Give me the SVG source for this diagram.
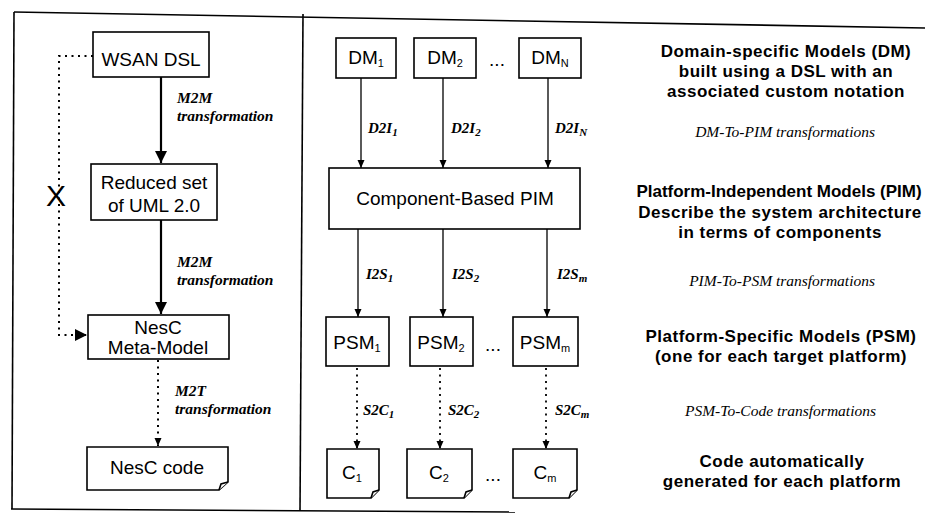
<svg xmlns="http://www.w3.org/2000/svg" width="928" height="517" viewBox="0 0 928 517">
<defs>
<style>
.bg{fill:#fff}
.frame{fill:none;stroke:#000;stroke-width:1.6}
.box{fill:#fff;stroke:#000;stroke-width:1.6}
.bt{font-family:"Liberation Sans",Arial,sans-serif;font-size:19px;fill:#000;text-anchor:middle}
.sub{font-size:11px}
.lbl{font-family:"Liberation Serif","Times New Roman",serif;font-size:15.5px;font-style:italic;font-weight:bold;fill:#000}
.rl{font-family:"Liberation Serif","Times New Roman",serif;font-size:15px;font-style:italic;font-weight:bold;fill:#000}
.desc{font-family:"Liberation Sans",Arial,sans-serif;font-size:17px;font-weight:bold;fill:#000;text-anchor:middle;letter-spacing:0.5px}
.it{font-family:"Liberation Serif","Times New Roman",serif;font-size:15.5px;font-style:italic;fill:#000;text-anchor:end}
.solid{fill:none;stroke:#000;stroke-width:2.2}
.thin{fill:none;stroke:#000;stroke-width:1.3}
.dot{fill:none;stroke:#000;stroke-width:2;stroke-dasharray:2 4.5}
.dott{fill:none;stroke:#000;stroke-width:1.8;stroke-dasharray:2 4.5}
</style>
<marker id="ah" markerUnits="userSpaceOnUse" markerWidth="12" markerHeight="14" viewBox="0 0 12 14" refX="12" refY="7" orient="auto">
<path d="M0,1 L12,7 L0,13 Z" fill="#000"/>
</marker>
<marker id="ahs" markerUnits="userSpaceOnUse" markerWidth="8" markerHeight="8" viewBox="0 0 8 8" refX="8" refY="4" orient="auto">
<path d="M0,0.5 L8,4 L0,7.5 Z" fill="#000"/>
</marker>
</defs>
<rect class="bg" x="0" y="0" width="928" height="517"/>

<g id="frame">
<path class="frame" d="M14,12 L925,28"/>
<path class="frame" d="M14,12 L12,509"/>
<path class="frame" d="M11,509 L515,512"/>
<path class="frame" d="M303,14 L300,511"/>
</g>

<g id="connectors">
<path id="c-wsan-uml" class="solid" d="M161,77 L161,163" marker-end="url(#ah)"/>
<path id="c-uml-nesc" class="solid" d="M161,220 L161,314" marker-end="url(#ah)"/>
<path id="c-wsan-nesc" class="dot" d="M93,56 L59,56 L59,335 L87,335" marker-end="url(#ah)"/>
<path id="c-nesc-code" class="dot" d="M158,360 L158,446" marker-end="url(#ahs)"/>
<path id="c-dm1-pim" class="thin" d="M361,78 L361,168" marker-end="url(#ahs)"/>
<path id="c-dm2-pim" class="thin" d="M443,78 L443,168" marker-end="url(#ahs)"/>
<path id="c-dmn-pim" class="thin" d="M548,78 L548,168" marker-end="url(#ahs)"/>
<path id="c-pim-psm1" class="thin" d="M358,229 L358,317" marker-end="url(#ahs)"/>
<path id="c-pim-psm2" class="thin" d="M443,229 L443,317" marker-end="url(#ahs)"/>
<path id="c-pim-psmm" class="thin" d="M547,229 L547,317" marker-end="url(#ahs)"/>
<path id="c-psm1-c1" class="dott" d="M357,368 L357,449" marker-end="url(#ahs)"/>
<path id="c-psm2-c2" class="dott" d="M440,368 L440,449" marker-end="url(#ahs)"/>
<path id="c-psmm-cm" class="dott" d="M546,368 L546,449" marker-end="url(#ahs)"/>
<text class="lbl" x="177" y="103">M2M</text>
<text class="lbl" x="177" y="121">transformation</text>
<text class="lbl" x="177" y="267">M2M</text>
<text class="lbl" x="177" y="285">transformation</text>
<text class="lbl" x="175" y="396">M2T</text>
<text class="lbl" x="175" y="414">transformation</text>
<text x="56" y="206" font-family="Liberation Sans,Arial,sans-serif" font-size="30" text-anchor="middle">X</text>
<text class="rl" x="368" y="133">D2I<tspan class="sub" dy="3">1</tspan></text>
<text class="rl" x="451" y="133">D2I<tspan class="sub" dy="3">2</tspan></text>
<text class="rl" x="555" y="133">D2I<tspan class="sub" dy="3">N</tspan></text>
<text class="rl" x="366" y="279">I2S<tspan class="sub" dy="3">1</tspan></text>
<text class="rl" x="452" y="279">I2S<tspan class="sub" dy="3">2</tspan></text>
<text class="rl" x="557" y="279">I2S<tspan class="sub" dy="3">m</tspan></text>
<text class="rl" x="363" y="415">S2C<tspan class="sub" dy="3">1</tspan></text>
<text class="rl" x="448" y="415">S2C<tspan class="sub" dy="3">2</tspan></text>
<text class="rl" x="555" y="415">S2C<tspan class="sub" dy="3">m</tspan></text>
</g>

<g id="n-wsan">
<rect class="box" x="93" y="32" width="116" height="45"/>
<text class="bt" x="151" y="62" dy="4">WSAN DSL</text>
</g>
<g id="n-uml">
<rect class="box" x="91" y="164" width="126" height="56"/>
<text class="bt" x="154" y="189">Reduced set</text>
<text class="bt" x="154" y="212">of UML 2.0</text>
</g>
<g id="n-nesc-mm">
<rect class="box" x="88" y="315" width="141" height="44"/>
<text class="bt" x="158" y="334">NesC</text>
<text class="bt" x="158" y="354">Meta-Model</text>
</g>
<g id="n-nesc-code">
<path class="box" d="M87,447 H228 V482 L219,490 H87 Z"/>
<path class="box" d="M228,482 L221,484 L219,490"/>
<text class="bt" x="157" y="474">NesC code</text>
</g>

<g id="n-dm1">
<rect class="box" x="336" y="38" width="60" height="40"/>
<text class="bt" x="366" y="64">DM<tspan class="sub" dy="3">1</tspan></text>
</g>
<g id="n-dm2">
<rect class="box" x="414" y="38" width="62" height="40"/>
<text class="bt" x="445" y="64">DM<tspan class="sub" dy="3">2</tspan></text>
</g>
<text class="bt" x="497" y="66">...</text>
<g id="n-dmn">
<rect class="box" x="519" y="38" width="62" height="40"/>
<text class="bt" x="550" y="64">DM<tspan class="sub" dy="3">N</tspan></text>
</g>
<g id="n-pim">
<rect class="box" x="329" y="168" width="251" height="61"/>
<text class="bt" x="455" y="205">Component-Based PIM</text>
</g>
<g id="n-psm1">
<rect class="box" x="326" y="317" width="63" height="49"/>
<text class="bt" x="357" y="349">PSM<tspan class="sub" dy="3">1</tspan></text>
</g>
<g id="n-psm2">
<rect class="box" x="410" y="317" width="63" height="49"/>
<text class="bt" x="441" y="349">PSM<tspan class="sub" dy="3">2</tspan></text>
</g>
<text class="bt" x="493" y="351">...</text>
<g id="n-psmm">
<rect class="box" x="513" y="317" width="65" height="49"/>
<text class="bt" x="545" y="349">PSM<tspan class="sub" dy="3">m</tspan></text>
</g>
<g id="n-c1">
<path class="box" d="M327,449 H379 V490 L371,498 H327 Z"/>
<path class="box" d="M379,490 L373,492 L371,498"/>
<text class="bt" x="352" y="479">C<tspan class="sub" dy="3">1</tspan></text>
</g>
<g id="n-c2">
<path class="box" d="M407,449 H472 V490 L464,498 H407 Z"/>
<path class="box" d="M472,490 L466,492 L464,498"/>
<text class="bt" x="439" y="479">C<tspan class="sub" dy="3">2</tspan></text>
</g>
<text class="bt" x="493" y="481">...</text>
<g id="n-cm">
<path class="box" d="M513,449 H577 V490 L569,498 H513 Z"/>
<path class="box" d="M577,490 L571,492 L569,498"/>
<text class="bt" x="545" y="479">C<tspan class="sub" dy="3">m</tspan></text>
</g>

<g id="descriptions">
<text class="desc" x="786" y="57">Domain-specific Models (DM)</text>
<text class="desc" x="786" y="77">built using a DSL with an</text>
<text class="desc" x="786" y="97">associated custom notation</text>
<text class="it" x="875" y="137">DM-To-PIM transformations</text>
<text class="desc" x="779" y="197" style="letter-spacing:0">Platform-Independent Models (PIM)</text>
<text class="desc" x="780" y="218">Describe the system architecture</text>
<text class="desc" x="780" y="238">in terms of components</text>
<text class="it" x="875" y="286">PIM-To-PSM transformations</text>
<text class="desc" x="781" y="342">Platform-Specific Models (PSM)</text>
<text class="desc" x="781" y="362">(one for each target platform)</text>
<text class="it" x="876" y="416">PSM-To-Code transformations</text>
<text class="desc" x="782" y="467">Code automatically</text>
<text class="desc" x="782" y="487">generated for each platform</text>
</g>
</svg>
